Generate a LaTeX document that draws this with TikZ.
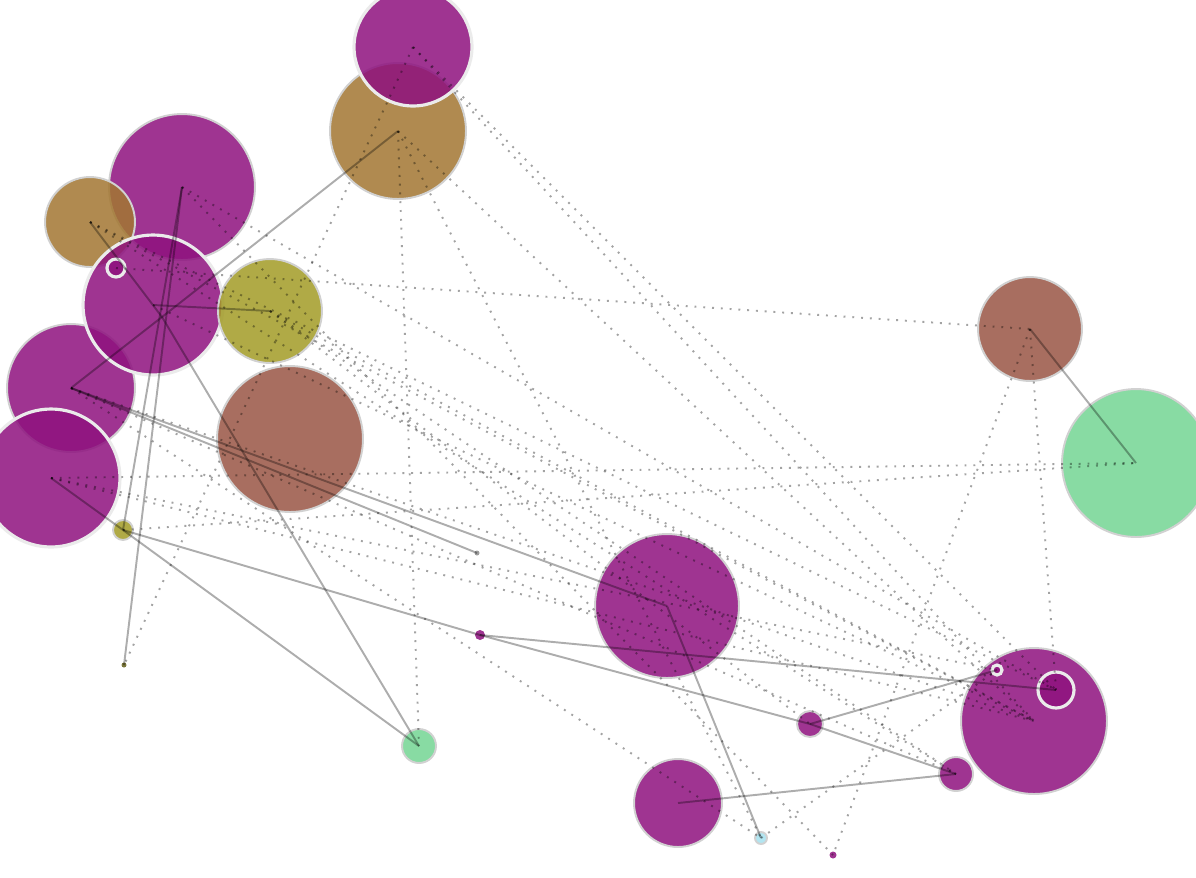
\documentclass[tikz,border=0pt]{standalone}
\definecolor{plum}{RGB}{142,17,126}
\definecolor{tan}{RGB}{162,118,49}
\definecolor{olive}{RGB}{162,155,38}
\definecolor{rust}{RGB}{153,85,68}
\definecolor{mint}{RGB}{115,213,147}
\definecolor{sky}{RGB}{165,225,238}
\begin{document}
\begin{tikzpicture}[x=0.02cm, y=-0.02cm,
    main/.style={circle, inner sep=0pt, draw=black!18, line width=1.1pt, fill opacity=0.85, minimum size=#1*0.04cm},
    halo/.style={draw=white!92!black, line width=1.8pt},
    link/.style={draw=black, draw opacity=0.32, line width=1.1pt},
    faint/.style={draw=black, draw opacity=0.36, line width=1.1pt, dash pattern=on 1.1pt off 3.9pt}]
  \useasboundingbox (0,0) rectangle (1196,877);
  \clip (0,0) rectangle (1196,877);
  \node[main=73, fill=plum] (2) at (182,187) {};
  \node[main=45, fill=tan] (3) at (90,222) {};
  \node[main=64, fill=plum] (7) at (71,388) {};
  \node[main=70, fill=plum, halo] (4) at (153,305) {};
  \node[main=9, fill=plum, halo] (5) at (116,268) {};
  \node[main=69, fill=plum, halo] (8) at (51,478) {};
  \node[main=68, fill=tan] (1) at (398,131) {};
  \node[main=59, fill=plum, halo] (0) at (413,47) {};
  \node[main=52, fill=olive] (6) at (270,311) {};
  \node[main=73, fill=rust] (9) at (290,439) {};
  \node[main=10, fill=olive] (10) at (123,530) {};
  \node[main=2.5, fill=olive!60!black, draw=none] (11) at (124,665) {};
  \node[main=2.5, fill=black!45, draw=none] (12) at (477,553) {};
  \node[main=5, fill=plum, draw=none] (13) at (480,635) {};
  \node[main=17, fill=mint] (14) at (419,746) {};
  \node[main=72, fill=plum] (15) at (667,606) {};
  \node[main=13, fill=plum] (16) at (810,724) {};
  \node[main=44, fill=plum] (17) at (678,803) {};
  \node[main=6, fill=sky] (18) at (761,838) {};
  \node[main=3.5, fill=plum, draw=none] (19) at (833,855) {};
  \node[main=17, fill=plum] (20) at (956,774) {};
  \node[main=73, fill=plum] (21) at (1034,721) {};
  \node[main=18, fill=plum, halo] (22) at (1056,690) {};
  \node[main=5, fill=plum, halo] (23) at (997,670) {};
  \node[main=52, fill=rust] (24) at (1030,329) {};
  \node[main=74, fill=mint] (25) at (1136,463) {};
  \coordinate (26) at (162,317);
  \draw[faint] (0.center) -- (11.center);
  \draw[faint] (0.center) -- (22.center);
  \draw[faint] (0.center) -- (21.center);
  \draw[faint] (1.center) -- (14.center);
  \draw[faint] (1.center) -- (18.center);
  \draw[faint] (1.center) -- (21.center);
  \draw[faint] (2.center) -- (19.center);
  \draw[faint] (2.center) -- (22.center);
  \draw[faint] (5.center) -- (24.center);
  \draw[faint] (3.center) -- (21.center);
  \draw[faint] (3.center) -- (20.center);
  \draw[faint] (3.center) -- (22.center);
  \draw[faint] (4.center) -- (21.center);
  \draw[faint] (6.center) -- (21.center);
  \draw[faint] (6.center) -- (20.center);
  \draw[faint] (6.center) -- (16.center);
  \draw[faint] (7.center) -- (21.center);
  \draw[faint] (7.center) -- (18.center);
  \draw[faint] (7.center) -- (20.center);
  \draw[faint] (8.center) -- (25.center);
  \draw[faint] (8.center) -- (21.center);
  \draw[faint] (8.center) -- (23.center);
  \draw[faint] (10.center) -- (25.center);
  \draw[faint] (24.center) -- (19.center);
  \draw[faint] (24.center) -- (22.center);
  \draw[faint] (18.center) -- (23.center);
  \draw[link] (1.center) -- (26);
  \draw[link] (26) -- (7.center);
  \draw[link] (3.center) -- (26);
  \draw[link] (26) -- (14.center);
  \draw[link] (4.center) -- (6.center);
  \draw[link] (2.center) -- (11.center);
  \draw[link] (2.center) -- (10.center);
  \draw[link] (8.center) -- (10.center);
  \draw[link] (10.center) -- (14.center);
  \draw[link] (10.center) -- (13.center);
  \draw[link] (13.center) -- (16.center);
  \draw[link] (13.center) -- (22.center);
  \draw[link] (7.center) -- (12.center);
  \draw[link] (7.center) -- (15.center);
  \draw[link] (15.center) -- (18.center);
  \draw[link] (17.center) -- (20.center);
  \draw[link] (16.center) -- (20.center);
  \draw[link] (16.center) -- (23.center);
  \draw[link] (24.center) -- (25.center);
\end{tikzpicture}
\end{document}
